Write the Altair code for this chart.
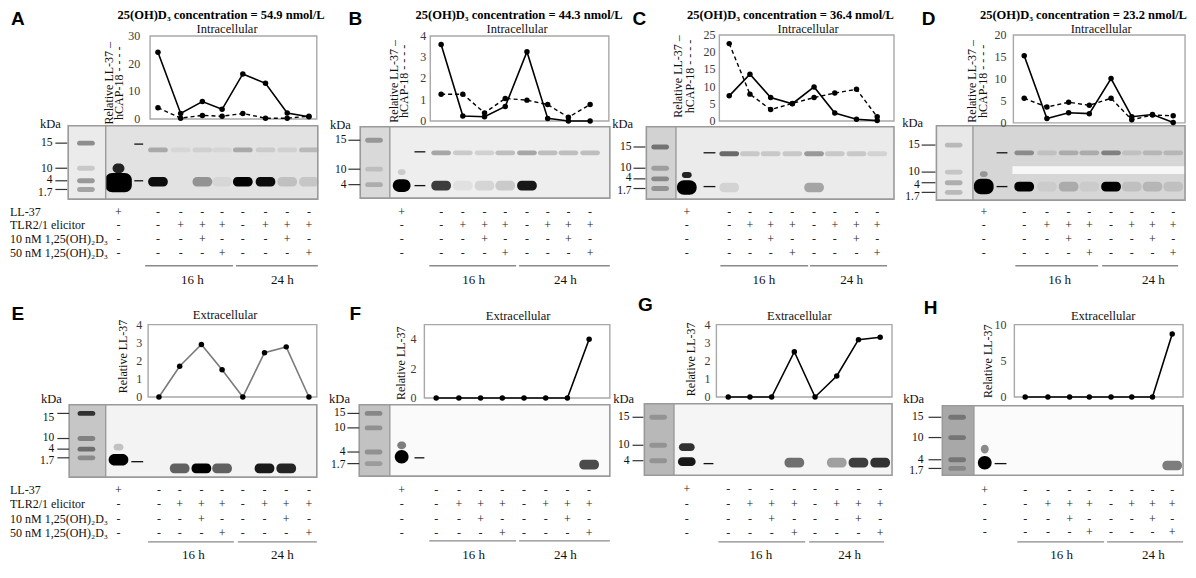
import altair as alt
import pandas as pd

# ---------------- values ----------------
conc = {"A": "54.9", "B": "44.3", "C": "36.4", "D": "23.2"}

A_ll37 = [24.1, 2.0, 6.3, 3.5, 16.3, 12.9, 2.2, 0.8]
A_hcap = [4.1, 0.3, 1.3, 1.0, 2.0, 0.3, 0.3, 1.0]
B_ll37 = [3.6, 0.23, 0.2, 0.68, 3.26, 0.12, 0.0, 0.0]
B_hcap = [1.26, 1.26, 0.38, 1.06, 0.98, 0.77, 0.17, 0.77]
C_ll37 = [7.3, 13.6, 6.8, 5.0, 9.9, 2.3, 0.5, 0.1]
C_hcap = [22.5, 7.8, 3.3, 5.1, 6.8, 8.1, 9.2, 1.2]
D_ll37 = [15.3, 1.0, 2.3, 2.1, 10.1, 1.4, 1.9, 0.1]
D_hcap = [5.6, 3.6, 4.7, 4.0, 5.6, 0.7, 1.8, 1.6]
E_ll37 = [0, 1.7, 2.9, 1.5, 0, 2.45, 2.77, 0]
F_ll37 = [0, 0, 0, 0, 0, 0, 0, 4.0]
G_ll37 = [0, 0, 0, 2.5, 0, 1.16, 3.17, 3.3]
H_ll37 = [0, 0, 0, 0, 0, 0, 0, 8.7]

series = {
    "A": (A_ll37, A_hcap), "B": (B_ll37, B_hcap), "C": (C_ll37, C_hcap), "D": (D_ll37, D_hcap),
    "E": (E_ll37, None), "F": (F_ll37, None), "G": (G_ll37, None), "H": (H_ll37, None),
}
yticks = {
    "A": [0, 10, 20, 30], "B": [0, 1, 2, 3, 4], "C": [0, 5, 10, 15, 20, 25], "D": [0, 5, 10, 15, 20],
    "E": [0, 1, 2, 3, 4], "F": [0, 2, 4], "G": [0, 1, 2, 3, 4], "H": [0, 5, 10],
}
ymax = {"A": 30, "B": 4, "C": 25, "D": 20, "E": 4, "F": 5, "G": 4, "H": 10}

row_names = ["LL-37", "TLR2/1 elicitor", "10 nM 1,25(OH)\u2082D\u2083", "50 nM 1,25(OH)\u2082D\u2083"]
row_ll37 = ["+", "-", "-", "-", "-", "-", "-", "-", "-"]
row_tlr = ["-", "-", "+", "+", "+", "-", "+", "+", "+"]
row_d10 = ["-", "-", "-", "+", "-", "-", "-", "+", "-"]
row_d50 = ["-", "-", "-", "-", "+", "-", "-", "-", "+"]
rows_sym = [row_ll37, row_tlr, row_d10, row_d50]
time_labels = ["16 h", "24 h"]

markers = {
    "A": ["15", "10", "4", "1.7"], "B": ["15", "10", "4"], "C": ["15", "10", "4", "1.7"],
    "D": ["15", "10", "4", "1.7"], "E": ["15", "10", "4", "1.7"], "F": ["15", "10", "4", "1.7"],
    "G": ["15", "10", "4"], "H": ["15", "10", "4", "1.7"],
}
# band intensities (0..1) in lanes 1-9, LL-37 (~4 kDa) and hCAP-18 (~15 kDa)
band_low = {
    "A": [0, 0.95, 0.0, 0.35, 0.05, 1.0, 0.95, 0.15, 0.12],
    "B": [0, 0.75, 0.05, 0.1, 0.15, 0.9, 0.0, 0.0, 0.0],
    "C": [0, 0.1, 0.0, 0.0, 0.0, 0.3, 0.0, 0.0, 0.0],
    "D": [0, 1.0, 0.05, 0.2, 0.05, 1.0, 0.1, 0.15, 0.1],
    "E": [0, 0.0, 0.6, 1.0, 0.6, 0.0, 0.9, 0.85, 0.0],
    "F": [0, 0, 0, 0, 0, 0, 0, 0, 0.7],
    "G": [0, 0, 0, 0, 0.55, 0, 0.35, 0.75, 0.8],
    "H": [0, 0, 0, 0, 0, 0, 0, 0, 0.5],
}
band_high = {
    "A": [0, 0.25, 0.05, 0.08, 0.05, 0.25, 0.1, 0.08, 0.18],
    "B": [0, 0.3, 0.15, 0.12, 0.2, 0.3, 0.2, 0.2, 0.2],
    "C": [0, 0.55, 0.15, 0.15, 0.15, 0.35, 0.15, 0.15, 0.1],
    "D": [0, 0.35, 0.1, 0.2, 0.2, 0.4, 0.1, 0.15, 0.15],
}
marker_int = {
    "A": [0.4, 0.15, 0.35, 0.3], "B": [0.3, 0.12, 0.2], "C": [0.45, 0.25, 0.35, 0.3],
    "D": [0.2, 0.15, 0.25, 0.2], "E": [0.75, 0.35, 0.45, 0.3], "F": [0.3, 0.25, 0.25, 0.2],
    "G": [0.2, 0.2, 0.2], "H": [0.3, 0.3, 0.3, 0.2],
}

# ---------------- layout (reference pixel space) ----------------
P = {
    "A": dict(lanes=[112, 152, 175, 197, 217, 238, 261, 283, 305], box=(144, 313, 33, 119),
              blot=(61, 314, 126, 202), sep=99, title=(216, 11.5), sub=(222, 26), letter=(10, 15),
              ytx=[102, 113], yty=82, tr=134, kda=(43, 124), mk_y=[144, 171, 182.5, 195.5],
              mk_t=[144, 170, 183, 192], mk_r=45, mk_x=(48, 60), dash_x=(128, 137), dash_y=[145, 183],
              rows=[215, 229, 243, 258], br_y=271, br=[(139, 228), (231, 314)], tx=[187, 278], ty=286,
              low_y=184, high_y=151, bg="#e2e2e2", mbg="#ebebeb",
              std=[(27, 20, 185, 1.0), (12, 10, 170, 0.85)], line="#000000"),
    "B": dict(lanes=[399, 439, 461, 483, 504, 526, 547, 568, 590], box=(428, 609, 33, 121),
              blot=(357, 610, 127, 201), sep=387, title=(518, 11.5), sub=(516, 26), letter=(352, 15),
              ytx=[391, 401], yty=80, tr=424, kda=(337, 125), mk_y=[141, 172, 187],
              mk_t=[141, 171, 187], mk_r=343, mk_x=(345, 357), dash_x=(412, 423), dash_y=[153, 188],
              rows=[215, 229, 243, 258], br_y=271, br=[(427, 515), (518, 610)], tx=[472, 565], ty=286,
              low_y=188, high_y=154, bg="#eeeeee", mbg="#d9d9d9",
              std=[(18, 13, 188, 1.0), (8, 6, 174, 0.15)], line="#000000"),
    "C": dict(lanes=[688, 731, 752, 773, 795, 817, 838, 860, 881], box=(721, 898, 32, 121),
              blot=(647, 898, 127, 202), sep=677, title=(793, 11.5), sub=(811, 26), letter=(640, 15),
              ytx=[679, 691], yty=75, tr=717, kda=(623, 124), mk_y=[148, 170, 180.5, 193.5],
              mk_t=[148, 170, 181, 191], mk_r=632, mk_x=(634, 646), dash_x=(705, 717), dash_y=[154, 189],
              rows=[215, 229, 243, 258], br_y=271, br=[(722, 811), (813, 891)], tx=[766, 855], ty=286,
              low_y=190, high_y=155, bg="#ebebeb", mbg="#d2d2d2",
              std=[(20, 15, 190, 1.0), (10, 6, 177, 0.85)], line="#000000"),
    "D": dict(lanes=[989, 1030, 1053, 1075, 1096, 1118, 1139, 1160, 1181], box=(1019, 1193, 32, 123),
              blot=(941, 1193, 126, 203), sep=978, title=(1090, 11.5), sub=(1108, 26), letter=(933, 15),
              ytx=[977, 988], yty=80, tr=1012, kda=(917, 123), mk_y=[146, 174, 187, 199.5],
              mk_t=[146, 174, 185, 195], mk_r=924, mk_x=(926, 940), dash_x=(1002, 1013), dash_y=[154, 189],
              rows=[215, 229, 243, 258], br_y=271, br=[(1021, 1105), (1109, 1186)], tx=[1066, 1161], ty=286,
              low_y=189, high_y=154, bg="#d6d6d6", mbg="#e8e8e8",
              std=[(20, 16, 189, 1.0), (8, 6, 176, 0.3)], line="#000000"),
    "E": dict(lanes=[112, 153, 174, 196, 217, 238, 260, 282, 305], box=(142, 313, 332, 407),
              blot=(62, 313, 415, 490), sep=99, title=None, sub=(220, 322), letter=(10, 321),
              ytx=[117], yty=365, tr=136, kda=(44, 409), mk_y=[429, 449, 461, 473],
              mk_t=[424, 450, 461, 470], mk_r=47, mk_x=(50, 62), dash_x=(125, 137), dash_y=[474],
              rows=[503, 518, 533, 548], br_y=557, br=[(142, 229), (233, 313)], tx=[188, 278], ty=571,
              low_y=481, high_y=None, bg="#f3f3f3", mbg="#c6c6c6",
              std=[(20, 12, 472, 1.0), (10, 7, 459, 0.2)], line="#7a7a7a"),
    "F": dict(lanes=[399, 434, 457, 479, 501, 523, 545, 567, 589], box=(422, 610, 332, 408),
              blot=(356, 610, 415, 489), sep=387, title=None, sub=(517, 323), letter=(352, 321),
              ytx=[398], yty=372, tr=414, kda=(336, 409), mk_y=[424, 439, 464, 477],
              mk_t=[424, 439, 464, 476], mk_r=342, mk_x=(344, 356), dash_x=(412, 422), dash_y=[470],
              rows=[503, 518, 533, 548], br_y=556, br=[(427, 515), (518, 610)], tx=[472, 565], ty=571,
              low_y=477, high_y=None, bg="#fafafa", mbg="#c2c2c2",
              std=[(14, 14, 469, 1.0), (9, 8, 457, 0.5)], line="#000000"),
    "G": dict(lanes=[688, 730, 752, 774, 797, 818, 840, 862, 884], box=(718, 896, 332, 407),
              blot=(645, 896, 414, 488), sep=675, title=None, sub=(802, 323), letter=(646, 312),
              ytx=[692], yty=368, tr=712, kda=(624, 409), mk_y=[428, 457, 473],
              mk_t=[428, 457, 473], mk_r=630, mk_x=(633, 644), dash_x=(705, 715), dash_y=[476],
              rows=[502, 518, 533, 548], br_y=557, br=[(720, 808), (812, 888)], tx=[763, 853], ty=571,
              low_y=475, high_y=None, bg="#f5f5f5", mbg="#b8b8b8",
              std=[(18, 9, 474, 0.9), (16, 8, 459, 0.8)], line="#000000"),
    "H": dict(lanes=[990, 1031, 1054, 1076, 1096, 1118, 1139, 1160, 1180], box=(1020, 1191, 332, 407),
              blot=(947, 1191, 416, 488), sep=979, title=None, sub=(1110, 323), letter=(935, 315),
              ytx=[993], yty=370, tr=1012, kda=(918, 409), mk_y=[428, 449, 472, 484],
              mk_t=[428, 449, 472, 481], mk_r=928, mk_x=(933, 946), dash_x=(1000, 1012), dash_y=[476],
              rows=[503, 518, 533, 547], br_y=557, br=[(1023, 1111), (1114, 1191)], tx=[1068, 1161], ty=571,
              low_y=478, high_y=None, bg="#fbfbfb", mbg="#a8a8a8",
              std=[(14, 14, 475, 1.0), (8, 9, 461, 0.45)], line="#000000"),
}

W, H = 1180, 556
XD = [0, 1196]
YD = [4, 580]
SERIF = "Liberation Serif, Times New Roman, serif"
SANS = "Liberation Sans, Arial, sans-serif"
TXT = "#111111"


def ex(f):
    return alt.X(f, type="quantitative", scale=alt.Scale(domain=XD, nice=False, zero=False), axis=None)


def ey(f):
    return alt.Y(f, type="quantitative", scale=alt.Scale(domain=YD, reverse=True, nice=False, zero=False), axis=None)


fills, bands, stdb, strokes, rules = [], [], [], [], []
texts = {"center": [], "left": [], "right": [], "bold": [], "letter": [], "rot": []}

for p, L in P.items():
    bx1, bx2, by1, by2 = L["blot"]
    fills.append(dict(x=L["sep"], x2=bx2, y=by1, y2=by2, f=L["bg"]))
    fills.append(dict(x=bx1, x2=L["sep"], y=by1, y2=by2, f=L["mbg"]))
    if p == "D":
        fills.append(dict(x=L["sep"] + 40, x2=bx2, y=by1 + 42, y2=by1 + 50, f="#f7f7f7"))
    mc = (bx1 + L["sep"]) / 2 - 1
    for ty_, it in zip(L["mk_t"], marker_int[p]):
        bands.append(dict(x=mc - 9, x2=mc + 9, y=ty_ - 2.5, y2=ty_ + 2.5, o=it))
    for i, it in enumerate(band_low[p]):
        if it > 0:
            cx = L["lanes"][i]
            bands.append(dict(x=cx - 10, x2=cx + 10, y=L["low_y"] - 5, y2=L["low_y"] + 5, o=it))
    if p in band_high:
        for i, it in enumerate(band_high[p]):
            if it > 0:
                cx = L["lanes"][i]
                bands.append(dict(x=cx - 10, x2=cx + 10, y=L["high_y"] - 2.5, y2=L["high_y"] + 2.5, o=it))
    for (w, h, yy, o) in L["std"]:
        cx = L["lanes"][0]
        stdb.append(dict(x=cx - w / 2, x2=cx + w / 2, y=yy - h / 2, y2=yy + h / 2, o=o))
    strokes.append(dict(x=bx1, x2=bx2, y=by1, y2=by2, s="#9a9a9a", w=1.6))
    x1, x2, yt, yb = L["box"]
    strokes.append(dict(x=x1, x2=x2, y=yt, y2=yb, s="#a8a8a8", w=1.4))
    rules.append(dict(x=L["sep"], x2=L["sep"], y=by1, y2=by2, c="#9a9a9a", w=1.4))
    for lab, yl, yt_ in zip(markers[p], L["mk_y"], L["mk_t"]):
        rules.append(dict(x=L["mk_x"][0], x2=L["mk_x"][1], y=yt_, y2=yt_, c="#333333", w=1.2))
        texts["right"].append(dict(x=L["mk_r"], y=yl, t=lab, s=11.5, c=TXT))
    for dy in L["dash_y"]:
        rules.append(dict(x=L["dash_x"][0], x2=L["dash_x"][1], y=dy, y2=dy, c="#111111", w=1.3))
    for (a, b), tl, tx in zip(L["br"], time_labels, L["tx"]):
        rules.append(dict(x=a, x2=b, y=L["br_y"], y2=L["br_y"], c="#8a8a8a", w=1.3))
        texts["center"].append(dict(x=tx, y=L["ty"], t=tl, s=13, c=TXT))
    for ry, syms in zip(L["rows"], rows_sym):
        for lx, sym in zip(L["lanes"], syms):
            texts["center"].append(dict(x=lx, y=ry, t=sym, s=12, c="#222222"))
    if p in ("A", "E"):
        for ry, nm in zip(L["rows"], row_names):
            texts["left"].append(dict(x=2, y=ry, t=nm, s=12, c=TXT))
    texts["center"].append(dict(x=L["kda"][0], y=L["kda"][1], t="kDa", s=12.5, c=TXT))
    sub = "Intracellular" if p in ("A", "B", "C", "D") else "Extracellular"
    texts["center"].append(dict(x=L["sub"][0], y=L["sub"][1], t=sub, s=12.5, c=TXT))
    if L["title"]:
        texts["bold"].append(dict(x=L["title"][0], y=L["title"][1],
                                  t="25(OH)D\u2083 concentration = " + conc[p] + " nmol/L", s=12.5, c="#000000"))
    texts["letter"].append(dict(x=L["letter"][0], y=L["letter"][1], t=p, s=19, c="#000000"))
    if len(L["ytx"]) == 2:
        texts["rot"].append(dict(x=L["ytx"][0], y=L["yty"], t="Relative LL-37 \u2013", s=12, c=TXT))
        texts["rot"].append(dict(x=L["ytx"][1], y=L["yty"], t="hCAP-18 - - - -", s=12, c=TXT))
    else:
        texts["rot"].append(dict(x=L["ytx"][0], y=L["yty"], t="Relative LL-37", s=12, c=TXT))

layers = []
layers.append(alt.Chart(pd.DataFrame(fills)).mark_rect().encode(
    x=ex("x"), x2="x2", y=ey("y"), y2="y2", color=alt.Color("f:N", scale=None)))
layers.append(alt.Chart(pd.DataFrame(bands)).mark_rect(cornerRadius=4.5, color="#000000").encode(
    x=ex("x"), x2="x2", y=ey("y"), y2="y2", opacity=alt.Opacity("o:Q", scale=None)))
layers.append(alt.Chart(pd.DataFrame(stdb)).mark_rect(cornerRadius=7, color="#000000").encode(
    x=ex("x"), x2="x2", y=ey("y"), y2="y2", opacity=alt.Opacity("o:Q", scale=None)))
layers.append(alt.Chart(pd.DataFrame(strokes)).mark_rect(fillOpacity=0).encode(
    x=ex("x"), x2="x2", y=ey("y"), y2="y2", stroke=alt.Stroke("s:N", scale=None),
    strokeWidth=alt.StrokeWidth("w:Q", scale=None)))
layers.append(alt.Chart(pd.DataFrame(rules)).mark_rule().encode(
    x=ex("x"), x2="x2", y=ey("y"), y2="y2", color=alt.Color("c:N", scale=None),
    strokeWidth=alt.StrokeWidth("w:Q", scale=None)))


def tlayer(rows, align, font, weight="normal", angle=0):
    return alt.Chart(pd.DataFrame(rows)).mark_text(
        align=align, baseline="middle", font=font, fontWeight=weight, angle=angle).encode(
        x=ex("x"), y=ey("y"), text="t:N", size=alt.Size("s:Q", scale=None),
        color=alt.Color("c:N", scale=None))


layers.append(tlayer(texts["center"], "center", SERIF))
layers.append(tlayer(texts["left"], "left", SERIF))
layers.append(tlayer(texts["right"], "right", SERIF))
layers.append(tlayer(texts["bold"], "center", SERIF, "bold"))
layers.append(tlayer(texts["letter"], "center", SANS, "bold"))
layers.append(tlayer(texts["rot"], "center", SERIF, "normal", 270))

# line charts, each with its own value scale
for p, L in P.items():
    x1, x2, yt, yb = L["box"]
    k = (yb - yt) / ymax[p]
    ysc = alt.Scale(domain=[(yb - YD[1]) / k, (yb - YD[0]) / k], nice=False, zero=False)
    ll, hc = series[p]
    xs = L["lanes"][1:]
    d1 = pd.DataFrame({"x": xs, "v": ll})
    yenc = alt.Y("v:Q", scale=ysc, axis=None)
    if hc is not None:
        d2 = pd.DataFrame({"x": xs, "v": hc})
        layers.append(alt.Chart(d2).mark_line(color="#000000", strokeWidth=1.4, strokeDash=[4, 3]).encode(
            x=ex("x"), y=yenc))
        layers.append(alt.Chart(d2).mark_circle(color="#000000", size=30, opacity=1).encode(
            x=ex("x"), y=yenc))
    layers.append(alt.Chart(d1).mark_line(color=L["line"], strokeWidth=1.6).encode(x=ex("x"), y=yenc))
    layers.append(alt.Chart(d1).mark_circle(color="#000000", size=30, opacity=1).encode(x=ex("x"), y=yenc))
    dt = pd.DataFrame({"x": [L["tr"]] * len(yticks[p]), "v": yticks[p], "t": [str(t) for t in yticks[p]]})
    layers.append(alt.Chart(dt).mark_text(align="right", baseline="middle", font=SERIF, fontSize=12,
                                          color="#3a3a3a").encode(x=ex("x"), y=yenc, text="t:N"))

chart = alt.layer(*layers).resolve_scale(y="independent").properties(
    width=W, height=H, padding=0, autosize=alt.AutoSizeParams(type="none"), background="white"
).configure_view(stroke=None)

chart.save("out.html", embed_options={"renderer": "svg", "actions": False})
